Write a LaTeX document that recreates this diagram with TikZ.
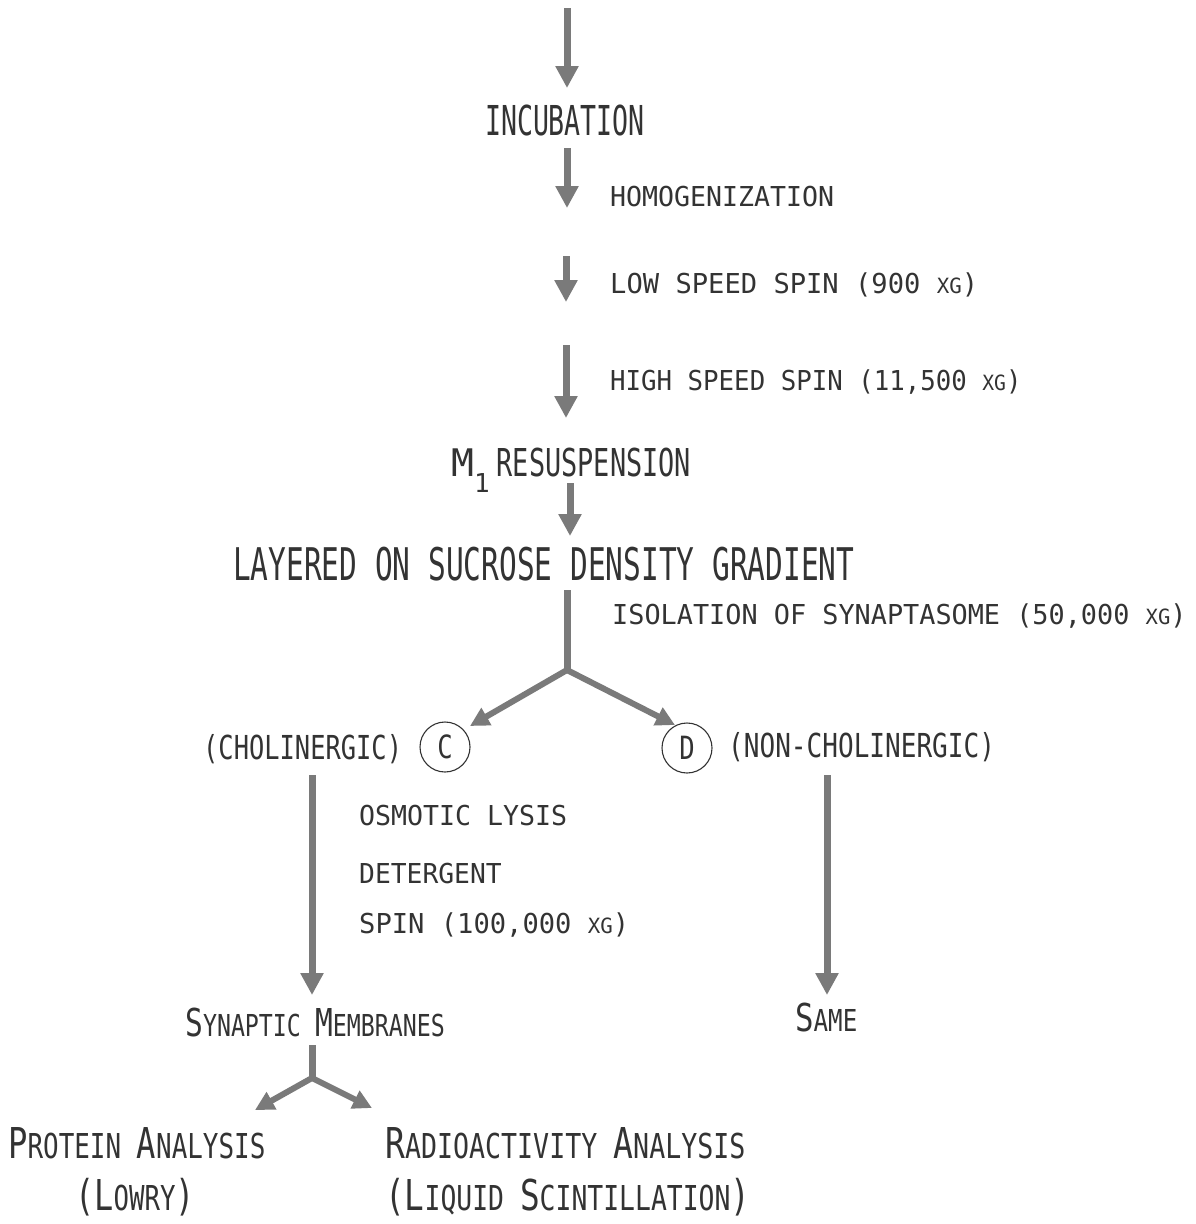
\documentclass[tikz,border=0pt]{standalone}
\usepackage{fontspec}
\newfontfamily\typ{DejaVu Sans Mono}
\usetikzlibrary{arrows.meta}
\definecolor{ink}{HTML}{333333}
\definecolor{arr}{HTML}{7A7A7A}
\newcommand\fs[2]{{\fontsize{#1pt}{#1pt}\selectfont #2}}
\newcommand\sx[2]{\scalebox{#1}[1]{#2}}
\begin{document}
\begin{tikzpicture}[x=1pt,y=-1pt,
  lbl/.style={font=\typ, text=ink, inner sep=0pt, anchor=base west},
  ctr/.style={font=\typ, text=ink, inner sep=0pt, anchor=base},
  flow/.style={draw=arr, line width=7pt, -{Triangle[width=22pt,length=22pt]}},
  bflow/.style={draw=arr, line width=6pt, -{Triangle[width=19pt,length=19pt]}},
  stem/.style={draw=arr, line width=7pt},
  ring/.style={circle, draw=ink, line width=1.1pt, minimum size=50pt, inner sep=0pt, font=\typ, text=ink}]
\useasboundingbox[fill=white] (0,0) rectangle (1196,1224);

% texts
\node[ctr] (inc) at (565,135) {\sx{0.645}{\fs{41.2}{INCUBATION}}};
\node[lbl] (hom) at (610,206) {\sx{0.97}{\fs{27.4}{HOMOGENIZATION}}};
\node[lbl] (low) at (610,293) {\sx{0.99}{\fs{27.4}{LOW SPEED SPIN (900 \fs{21}{XG})}}};
\node[lbl] (high) at (610,390) {\sx{0.94}{\fs{27.4}{HIGH SPEED SPIN (11,500 \fs{21}{XG})}}};
\node[lbl] (res) at (451,476) {\fs{38}{M}\raisebox{-16pt}{\fs{26}{1}}\hspace{7pt}\sx{0.7}{\fs{38.4}{RESUSPENSION}}};
\node[lbl] (lay) at (233,580) {\sx{0.655}{\fs{45}{LAYERED ON SUCROSE DENSITY GRADIENT}}};
\node[lbl] (iso) at (612,624) {\sx{0.98}{\fs{27.4}{ISOLATION OF SYNAPTASOME (50,000 \fs{21}{XG})}}};
\node[lbl] (chol) at (203,759) {\sx{0.77}{\fs{33}{(CHOLINERGIC)}}};
\node[ring] (C) at (445,747) {\sx{0.8}{\fs{32}{C}}};
\node[ring] (D) at (687,748) {\sx{0.8}{\fs{32}{D}}};
\node[lbl] (nchol) at (728,757) {\sx{0.79}{\fs{33}{(NON-CHOLINERGIC)}}};
\node[lbl] (osm) at (359,825) {\sx{0.97}{\fs{27.4}{OSMOTIC LYSIS}}};
\node[lbl] (det) at (359,883) {\sx{0.96}{\fs{27.4}{DETERGENT}}};
\node[lbl] (spin) at (359,933) {\sx{0.99}{\fs{27.4}{SPIN (100,000 \fs{21}{XG})}}};
\node[lbl] (syn) at (185,1036) {\sx{0.77}{\fs{38.4}{S}\fs{30.2}{YNAPTIC }\fs{38.4}{M}\fs{30.2}{EMBRANES}}};
\node[lbl] (same) at (795,1031) {\sx{0.8}{\fs{38.4}{S}\fs{30.2}{AME}}};
\node[lbl] (prot) at (8,1158) {\sx{0.756}{\fs{42.5}{P}\fs{34.3}{ROTEIN }\fs{42.5}{A}\fs{34.3}{NALYSIS}}};
\node[lbl] (lowry) at (75,1210) {\sx{0.75}{\fs{42.5}{(L}\fs{34.3}{OWRY}\fs{42.5}{)}}};
\node[lbl] (radio) at (385,1158) {\sx{0.776}{\fs{42.5}{R}\fs{34.3}{ADIOACTIVITY }\fs{42.5}{A}\fs{34.3}{NALYSIS}}};
\node[lbl] (liq) at (385,1210) {\sx{0.77}{\fs{42.5}{(L}\fs{34.3}{IQUID }\fs{42.5}{S}\fs{34.3}{CINTILLATION}\fs{42.5}{)}}};

% arrow end points
\coordinate (a0s) at (567,8);    \coordinate (a0e) at (567,88);
\coordinate (a1s) at (567,148);  \coordinate (a1e) at (567,208);
\coordinate (a2s) at (566,256);  \coordinate (a2e) at (566,302);
\coordinate (a3s) at (566,345);  \coordinate (a3e) at (566,418);
\coordinate (a4s) at (570,483);  \coordinate (a4e) at (570,536);
\coordinate (js) at (567,590);   \coordinate (j1) at (567,670);
\coordinate (ct) at (470,726);   \coordinate (dt) at (675,725);
\coordinate (ls) at (312,775);   \coordinate (le) at (312,995);
\coordinate (rs) at (827,775);   \coordinate (re) at (827,995);
\coordinate (ss) at (312,1045);  \coordinate (j2) at (312,1078);
\coordinate (pt) at (255,1110);  \coordinate (rt) at (372,1108);

\draw[flow] (a0s) -- (a0e);
\draw[flow] (a1s) -- (a1e);
\draw[flow] (a2s) -- (a2e);
\draw[flow] (a3s) -- (a3e);
\draw[flow] (a4s) -- (a4e);
\draw[stem] (js) -- (j1);
\draw[bflow] (j1) -- (ct);
\draw[bflow] (j1) -- (dt);
\draw[flow] (ls) -- (le);
\draw[flow] (rs) -- (re);
\draw[stem] (ss) -- (j2);
\draw[bflow] (j2) -- (pt);
\draw[bflow] (j2) -- (rt);
\end{tikzpicture}
\end{document}
